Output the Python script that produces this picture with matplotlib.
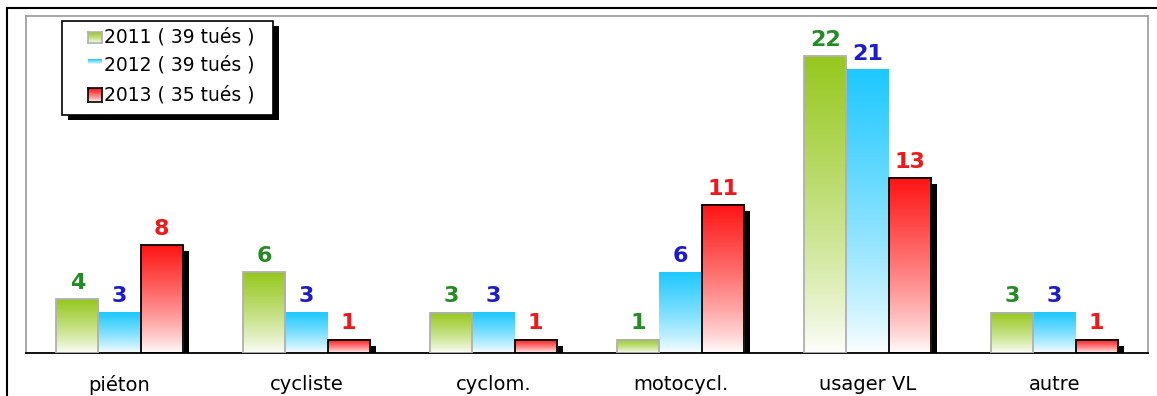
import matplotlib
matplotlib.use("Agg")
import matplotlib.pyplot as plt
import numpy as np
from matplotlib.colors import LinearSegmentedColormap
from matplotlib.patches import Rectangle
from matplotlib.lines import Line2D

plt.rcParams["font.family"] = ["DejaVu Sans"]

categories = ["piéton", "cycliste", "cyclom.", "motocycl.", "usager VL", "autre"]
v2011 = [4, 6, 3, 1, 22, 3]
v2012 = [3, 3, 3, 6, 21, 3]
v2013 = [8, 1, 1, 11, 13, 1]
legend_labels = ["2011 ( 39 tués )", "2012 ( 39 tués )", "2013 ( 35 tués )"]

W, H = 1157, 396
fig = plt.figure(figsize=(W / 100, H / 100), dpi=100)
ax = fig.add_axes([26 / W, (H - 353) / H, 1122 / W, 337 / H])
ax.set_xlim(-0.5, 5.5)
ax.set_ylim(0, 25)

top_cols = ["#96c81e", "#1ec8ff", "#ff1414"]
txt_cols = ["#238c23", "#1c1ccc", "#f01818"]
edge_cols = ["#b0b0b0", None, "black"]
cmaps = [LinearSegmentedColormap.from_list("g%d" % i, ["white", c]) for i, c in enumerate(top_cols)]
grad = np.linspace(0, 1, 256).reshape(-1, 1) ** 0.8

bw = 0.225
px_x = 6 / 187.0   # 6 px in x data units
px_y = 6 / 13.48   # 6 px in y data units

for s, vals in enumerate([v2011, v2012, v2013]):
    for i, v in enumerate(vals):
        x0 = i + (s - 1) * bw - bw / 2
        if s == 2:
            ax.add_patch(Rectangle((x0 + px_x, 0), bw, v - px_y, facecolor="black",
                                   edgecolor="none", zorder=1))
        ax.imshow(grad, extent=[x0, x0 + bw, 0, v], aspect="auto", origin="lower",
                  cmap=cmaps[s], zorder=2, interpolation="bilinear")
        if edge_cols[s] is not None:
            ax.add_patch(Rectangle((x0, 0), bw, v, facecolor="none",
                                   edgecolor=edge_cols[s], linewidth=1.3, zorder=3))
        ax.text(x0 + bw / 2, v + 0.45, str(v), ha="center", va="bottom",
                fontsize=16, fontweight="bold", color=txt_cols[s], zorder=4)

ax.set_xlim(-0.5, 5.5)
ax.set_ylim(0, 25)
ax.set_xticks(range(len(categories)))
ax.set_xticklabels(categories, fontsize=14)
ax.tick_params(axis="x", length=0, pad=16)
ax.set_yticks([])
for side in ["top", "left", "right"]:
    ax.spines[side].set_color("#9a9a9a")
    ax.spines[side].set_linewidth(1.2)
ax.spines["bottom"].set_color("black")
ax.spines["bottom"].set_linewidth(1.3)


def fp(x, y):
    return (x / W, 1 - y / H)


# outer frame
fig.add_artist(Line2D([7 / W, 1], [1 - 8 / H] * 2, color="black", lw=1.5))
fig.add_artist(Line2D([7 / W] * 2, [0, 1 - 8 / H], color="black", lw=1.5))

# legend box with shadow
lx0, ly0, lx1, ly1 = 62, 21, 273, 115
sx, sy = fp(lx0 + 6, ly1 + 5)
fig.add_artist(Rectangle((sx, sy), (lx1 - lx0) / W, (ly1 - ly0) / H,
                         transform=fig.transFigure, facecolor="black", edgecolor="none", zorder=5))
bx, by = fp(lx0, ly1)
fig.add_artist(Rectangle((bx, by), (lx1 - lx0) / W, (ly1 - ly0) / H,
                         transform=fig.transFigure, facecolor="white", edgecolor="black",
                         lw=1.2, zorder=6))

rows_y = [37, 65, 95]
marker_boxes = [(88, 32, 102, 43), (88, 59, 102, 64), (88, 88, 102, 102)]
for s in range(3):
    mx0, my0, mx1, my1 = marker_boxes[s]
    lax = fig.add_axes([mx0 / W, 1 - my1 / H, (mx1 - mx0) / W, (my1 - my0) / H], zorder=10)
    lax.imshow(grad, aspect="auto", origin="lower", cmap=cmaps[s], extent=[0, 1, 0, 1])
    lax.set_xticks([])
    lax.set_yticks([])
    for sp in lax.spines.values():
        if edge_cols[s] is None:
            sp.set_visible(False)
        else:
            sp.set_color(edge_cols[s])
            sp.set_linewidth(1.2)
    tx, ty = fp(104, rows_y[s])
    fig.text(tx, ty, legend_labels[s], fontsize=13.5, va="center", ha="left",
             color="black", zorder=11)

fig.savefig("out.png", dpi=100)
